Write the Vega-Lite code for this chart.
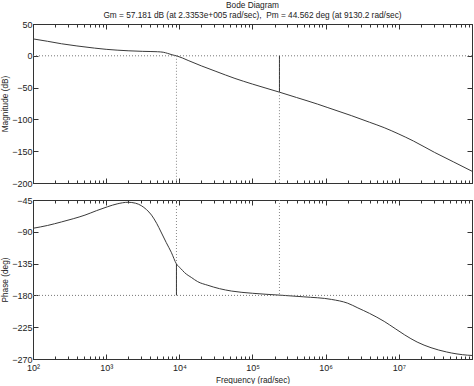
{
  "$schema": "https://vega.github.io/schema/vega-lite/v6.json",
  "padding": {"left": 0, "top": 0, "right": 0, "bottom": 0},
  "spacing": 6,
  "datasets": {
    "mag": [
      {"f": 100, "db": 26.6},
      {"f": 158.5, "db": 22.8},
      {"f": 245.5, "db": 18.9},
      {"f": 398.1, "db": 15.5},
      {"f": 691.8, "db": 12.1},
      {"f": 1000, "db": 10.2},
      {"f": 1995, "db": 7.9},
      {"f": 3162, "db": 7.0},
      {"f": 5012, "db": 6.4},
      {"f": 6026, "db": 5.6},
      {"f": 6918, "db": 3.8},
      {"f": 7943, "db": 1.6},
      {"f": 9130.2, "db": 0},
      {"f": 13183, "db": -7.3},
      {"f": 19953, "db": -15.8},
      {"f": 31623, "db": -24.5},
      {"f": 57544, "db": -35.6},
      {"f": 100000, "db": -44.5},
      {"f": 233530, "db": -57.181},
      {"f": 398107, "db": -65.5},
      {"f": 776247, "db": -76},
      {"f": 1071519, "db": -81.5},
      {"f": 2238721, "db": -94},
      {"f": 3981072, "db": -104.5},
      {"f": 6309573, "db": -113},
      {"f": 9772372, "db": -122.5},
      {"f": 15848932, "db": -134},
      {"f": 30902954, "db": -152},
      {"f": 56234133, "db": -167},
      {"f": 100000000, "db": -181.5}
    ],
    "phase": [
      {"f": 100, "deg": -85},
      {"f": 158.5, "deg": -81},
      {"f": 245.5, "deg": -76},
      {"f": 354.8, "deg": -71.5},
      {"f": 512.9, "deg": -66.4},
      {"f": 741.3, "deg": -60},
      {"f": 1047, "deg": -54.5},
      {"f": 1412.5, "deg": -50.5},
      {"f": 1995, "deg": -48.2},
      {"f": 2512, "deg": -49.5},
      {"f": 3020, "deg": -53},
      {"f": 3548, "deg": -58.5},
      {"f": 4169, "deg": -66.4},
      {"f": 4898, "deg": -78},
      {"f": 5623, "deg": -90.3},
      {"f": 6607, "deg": -105},
      {"f": 7762, "deg": -119},
      {"f": 9130.2, "deg": -135.438},
      {"f": 10471, "deg": -142},
      {"f": 11749, "deg": -147.6},
      {"f": 14791, "deg": -155},
      {"f": 17783, "deg": -160.5},
      {"f": 24547, "deg": -165.7},
      {"f": 35481, "deg": -170.5},
      {"f": 51286, "deg": -173.8},
      {"f": 100000, "deg": -177},
      {"f": 233530, "deg": -179.6},
      {"f": 501187, "deg": -182},
      {"f": 1202264, "deg": -185.7},
      {"f": 1995262, "deg": -191},
      {"f": 2754229, "deg": -197.7},
      {"f": 3981072, "deg": -205.5},
      {"f": 6309573, "deg": -216.8},
      {"f": 8912509, "deg": -227},
      {"f": 12022644, "deg": -235.9},
      {"f": 17782794, "deg": -246},
      {"f": 27542287, "deg": -254},
      {"f": 44668359, "deg": -260},
      {"f": 87096359, "deg": -264.6},
      {"f": 100000000, "deg": -265}
    ],
    "magRules": [
      {"f": 9130.2, "y1": 0, "y2": -200, "type": "guide"},
      {"f": 233530, "y1": 0, "y2": -57.181, "type": "marker"},
      {"f": 233530, "y1": -57.181, "y2": -200, "type": "guide"}
    ],
    "phaseRules": [
      {"f": 9130.2, "y1": -45, "y2": -135.438, "type": "guide"},
      {"f": 9130.2, "y1": -135.438, "y2": -180, "type": "marker"},
      {"f": 233530, "y1": -45, "y2": -180, "type": "guide"}
    ]
  },
  "config": {
    "font": "Liberation Sans",
    "view": {"stroke": "#333", "strokeWidth": 1},
    "axis": {
      "grid": false,
      "domainColor": "#333",
      "tickColor": "#333",
      "labelColor": "#222",
      "labelFont": "Liberation Sans",
      "labelFontSize": 9,
      "titleFont": "Liberation Sans",
      "titleFontSize": 8.3,
      "titleFontWeight": "normal",
      "titleColor": "#222"
    },
    "title": {"font": "Liberation Sans", "fontSize": 8.3, "fontWeight": "normal", "color": "#222", "subtitleFont": "Liberation Sans", "subtitleFontSize": 8.3, "subtitleColor": "#222"}
  },
  "vconcat": [
    {
      "width": 439,
      "height": 159,
      "title": {"text": "Bode Diagram", "subtitle": "Gm = 57.181 dB (at 2.3353e+005 rad/sec),\u00a0 Pm = 44.562 deg (at 9130.2 rad/sec)", "anchor": "middle", "offset": 1, "subtitlePadding": 1},
      "resolve": {"axis": {"x": "independent", "y": "independent"}},
      "layer": [
        {
          "data": {"name": "mag"},
          "mark": {"type": "line", "color": "#3a3a3a", "strokeWidth": 1, "clip": true, "interpolate": "monotone"},
          "encoding": {
            "x": {"field": "f", "type": "quantitative", "scale": {"type": "log", "domain": [100, 100000000]},
              "axis": {"orient": "bottom", "values": [100,200,300,400,500,600,700,800,900,1000,2000,3000,4000,5000,6000,7000,8000,9000,10000,20000,30000,40000,50000,60000,70000,80000,90000,100000,200000,300000,400000,500000,600000,700000,800000,900000,1000000,2000000,3000000,4000000,5000000,6000000,7000000,8000000,9000000,10000000,20000000,30000000,40000000,50000000,60000000,70000000,80000000,90000000,100000000],
                "labels": false, "title": null,
                "tickSize": {"condition": {"test": "abs(log(datum.value)/LN10 - round(log(datum.value)/LN10)) < 0.001", "value": -5}, "value": -3}}},
            "y": {"field": "db", "type": "quantitative", "scale": {"domain": [-200, 50]},
              "axis": {"orient": "left", "values": [-200, -150, -100, -50, 0, 50], "title": "Magnitude (dB)", "tickSize": -5, "labelPadding": 6, "titlePadding": 2}}
          }
        },
        {
          "data": {"values": [{"db": 0}]},
          "mark": {"type": "rule", "color": "#777", "strokeWidth": 1, "strokeDash": [1, 2]},
          "encoding": {"y": {"field": "db", "type": "quantitative", "scale": {"domain": [-200, 50]}, "axis": null}}
        },
        {
          "data": {"name": "magRules"},
          "mark": {"type": "rule", "strokeWidth": 1},
          "encoding": {
            "x": {"field": "f", "type": "quantitative", "scale": {"type": "log", "domain": [100, 100000000]},
              "axis": {"orient": "top", "values": [100,200,300,400,500,600,700,800,900,1000,2000,3000,4000,5000,6000,7000,8000,9000,10000,20000,30000,40000,50000,60000,70000,80000,90000,100000,200000,300000,400000,500000,600000,700000,800000,900000,1000000,2000000,3000000,4000000,5000000,6000000,7000000,8000000,9000000,10000000,20000000,30000000,40000000,50000000,60000000,70000000,80000000,90000000,100000000],
                "labels": false, "title": null,
                "tickSize": {"condition": {"test": "abs(log(datum.value)/LN10 - round(log(datum.value)/LN10)) < 0.001", "value": -5}, "value": -3}}},
            "y": {"field": "y1", "type": "quantitative", "scale": {"domain": [-200, 50]},
              "axis": {"orient": "right", "values": [-200, -150, -100, -50, 0, 50], "labels": false, "title": null, "tickSize": -5}},
            "y2": {"field": "y2"},
            "color": {"field": "type", "type": "nominal", "scale": {"domain": ["guide", "marker"], "range": ["#888", "#333"]}, "legend": null},
            "strokeDash": {"field": "type", "type": "nominal", "scale": {"domain": ["guide", "marker"], "range": [[1, 2], [4, 0]]}, "legend": null}
          }
        }
      ]
    },
    {
      "width": 439,
      "height": 159,
      "resolve": {"axis": {"x": "independent", "y": "independent"}},
      "layer": [
        {
          "data": {"name": "phase"},
          "mark": {"type": "line", "color": "#3a3a3a", "strokeWidth": 1, "clip": true, "interpolate": "monotone"},
          "encoding": {
            "x": {"field": "f", "type": "quantitative", "scale": {"type": "log", "domain": [100, 100000000]},
              "axis": {"orient": "bottom", "values": [100,200,300,400,500,600,700,800,900,1000,2000,3000,4000,5000,6000,7000,8000,9000,10000,20000,30000,40000,50000,60000,70000,80000,90000,100000,200000,300000,400000,500000,600000,700000,800000,900000,1000000,2000000,3000000,4000000,5000000,6000000,7000000,8000000,9000000,10000000,20000000,30000000,40000000,50000000,60000000,70000000,80000000,90000000,100000000],
                "labelExpr": "abs(log(datum.value)/LN10 - round(log(datum.value)/LN10)) < 0.001 && datum.value < 50000000 ? '10' + ['⁰','¹','²','³','⁴','⁵','⁶','⁷','⁸'][round(log(datum.value)/LN10)] : ''",
                "labelOverlap": false, "labelBound": false, "labelFlush": false, "labelPadding": 9,
                "title": "Frequency (rad/sec)", "titlePadding": 1,
                "tickSize": {"condition": {"test": "abs(log(datum.value)/LN10 - round(log(datum.value)/LN10)) < 0.001", "value": -5}, "value": -3}}},
            "y": {"field": "deg", "type": "quantitative", "scale": {"domain": [-270, -45]},
              "axis": {"orient": "left", "values": [-270, -225, -180, -135, -90, -45], "title": "Phase (deg)", "tickSize": -5, "labelPadding": 6, "titlePadding": 2}}
          }
        },
        {
          "data": {"values": [{"deg": -180}]},
          "mark": {"type": "rule", "color": "#777", "strokeWidth": 1, "strokeDash": [1, 2]},
          "encoding": {"y": {"field": "deg", "type": "quantitative", "scale": {"domain": [-270, -45]}, "axis": null}}
        },
        {
          "data": {"name": "phaseRules"},
          "mark": {"type": "rule", "strokeWidth": 1},
          "encoding": {
            "x": {"field": "f", "type": "quantitative", "scale": {"type": "log", "domain": [100, 100000000]},
              "axis": {"orient": "top", "values": [100,200,300,400,500,600,700,800,900,1000,2000,3000,4000,5000,6000,7000,8000,9000,10000,20000,30000,40000,50000,60000,70000,80000,90000,100000,200000,300000,400000,500000,600000,700000,800000,900000,1000000,2000000,3000000,4000000,5000000,6000000,7000000,8000000,9000000,10000000,20000000,30000000,40000000,50000000,60000000,70000000,80000000,90000000,100000000],
                "labels": false, "title": null,
                "tickSize": {"condition": {"test": "abs(log(datum.value)/LN10 - round(log(datum.value)/LN10)) < 0.001", "value": -5}, "value": -3}}},
            "y": {"field": "y1", "type": "quantitative", "scale": {"domain": [-270, -45]},
              "axis": {"orient": "right", "values": [-270, -225, -180, -135, -90, -45], "labels": false, "title": null, "tickSize": -5}},
            "y2": {"field": "y2"},
            "color": {"field": "type", "type": "nominal", "scale": {"domain": ["guide", "marker"], "range": ["#888", "#333"]}, "legend": null},
            "strokeDash": {"field": "type", "type": "nominal", "scale": {"domain": ["guide", "marker"], "range": [[1, 2], [4, 0]]}, "legend": null}
          }
        }
      ]
    }
  ]
}
